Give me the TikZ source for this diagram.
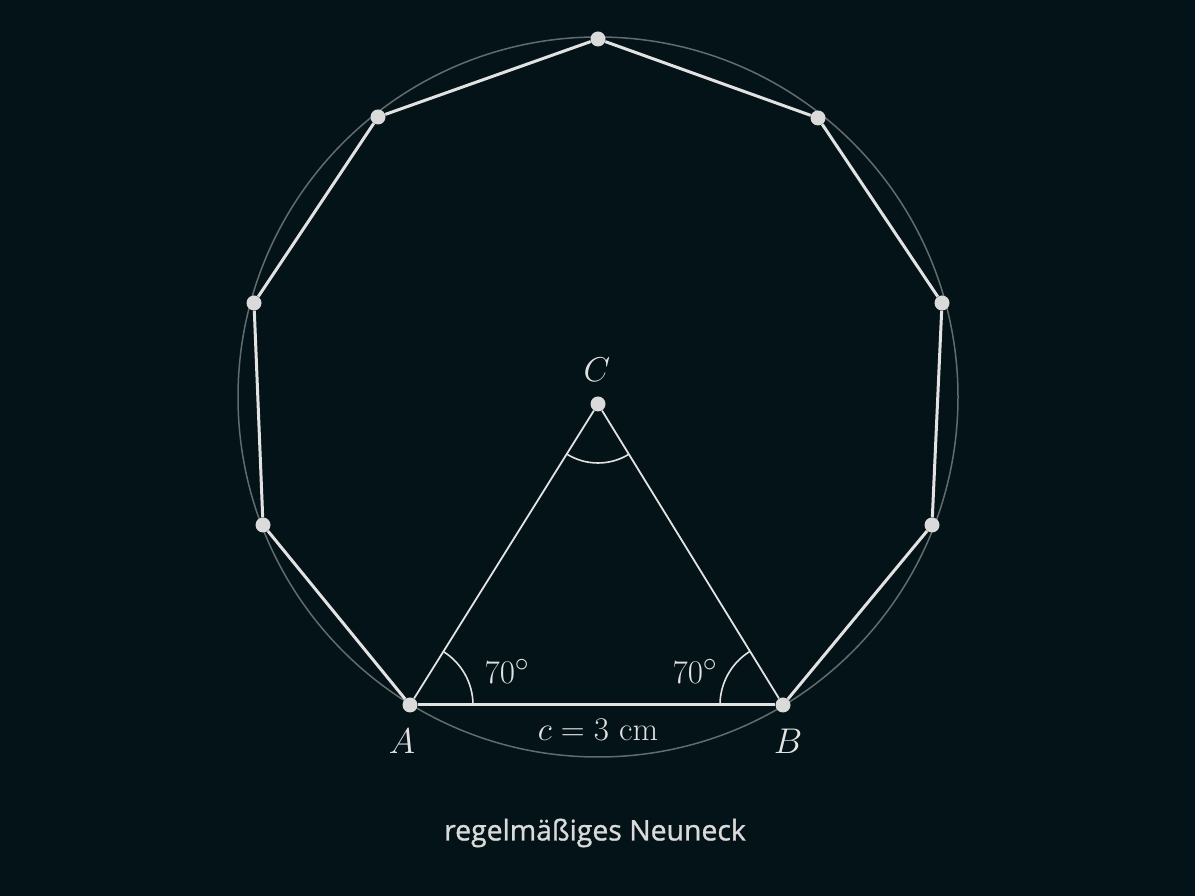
\documentclass[tikz,border=0pt]{standalone}
\usepackage{fontspec}
\newfontfamily\captionfont{Open Sans}[FakeBold=1]
\usetikzlibrary{angles}

\definecolor{board}{RGB}{3,19,23}
\definecolor{chalk}{RGB}{226,226,226}
\definecolor{rim}{RGB}{98,108,110}

\begin{document}
\begin{tikzpicture}[x=1pt,y=1pt,
            vertex/.style={circle,fill=chalk!92!gray,inner sep=0pt,minimum size=15pt},
            side/.style={chalk,line width=3pt},
            leg/.style={chalk,line width=1.8pt},
            anglemark/.style={draw=chalk,line width=1.6pt,angle radius=63pt},
            lbl/.style={text=chalk,font=\fontsize{24.88}{30}\selectfont,scale=1.33}
        ]
        \fill[board] (0,0) rectangle (1195,896);
        \draw[rim,line width=1.5pt] (598,499) circle (360);

        \node[vertex] (p1) at (598,857) {};
        \node[vertex] (p2) at (818,778) {};
        \node[vertex] (p3) at (942,593) {};
        \node[vertex] (p4) at (932,371) {};
        \node[vertex] (b)  at (783,191) {};
        \node[vertex] (a)  at (410,191) {};
        \node[vertex] (p7) at (263,371) {};
        \node[vertex] (p8) at (254,593) {};
        \node[vertex] (p9) at (378,779) {};
        \node[vertex] (c)  at (598,492) {};

        \draw[side] (a) -- (b);
        \draw[side] (b) -- (p4);
        \draw[side] (p4) -- (p3);
        \draw[side] (p3) -- (p2);
        \draw[side] (p2) -- (p1);
        \draw[side] (p1) -- (p9);
        \draw[side] (p9) -- (p8);
        \draw[side] (p8) -- (p7);
        \draw[side] (p7) -- (a);
        \draw[leg] (a) -- (c);
        \draw[leg] (b) -- (c);

        \pic[anglemark] {angle = b--a--c};
        \pic[anglemark] {angle = c--b--a};
        \pic[anglemark,angle radius=59pt] {angle = a--c--b};

        \node[lbl,scale=1.08] (la) at (402,155) {$A$};
        \node[lbl,scale=1.08] (lb) at (788,155) {$B$};
        \node[lbl,scale=1.04] (lc) at (597,526) {$C$};
        \node[lbl] (wa) at (507,225) {$70^\circ$};
        \node[lbl] (wb) at (695,225) {$70^\circ$};
        \node[lbl] (lab) at (598,166) {$c = 3$ cm};
        \node[text=chalk!92!gray,font=\captionfont\fontsize{28.4}{34}\selectfont] (title) at (595,63) {regelmäßiges Neuneck};
    \end{tikzpicture}
\end{document}
